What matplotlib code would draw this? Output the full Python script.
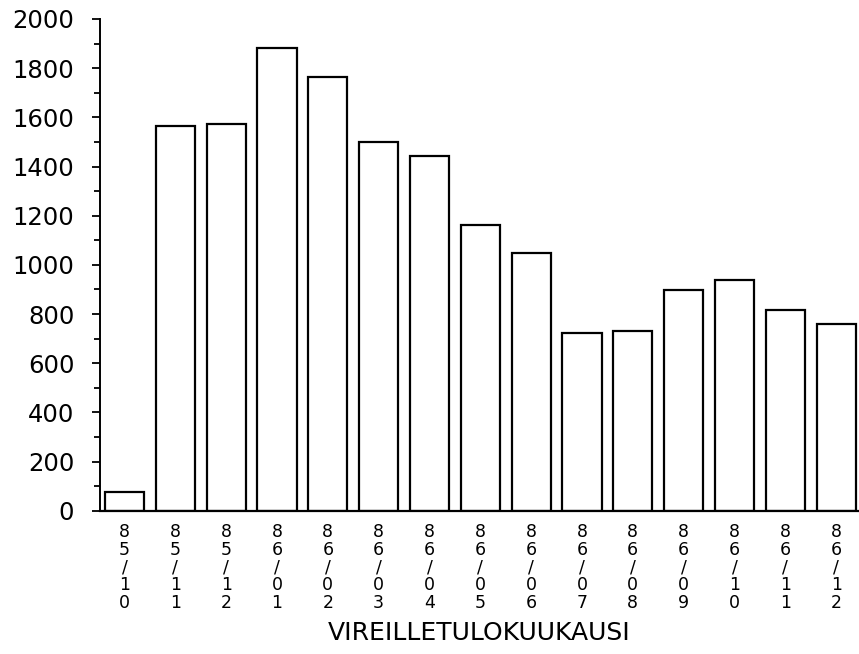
import matplotlib
matplotlib.use("Agg")
import matplotlib.pyplot as plt
import numpy as np

categories = ["85/10", "85/11", "85/12", "86/01", "86/02", "86/03", "86/04",
              "86/05", "86/06", "86/07", "86/08", "86/09", "86/10", "86/11", "86/12"]
values = [77, 1563, 1572, 1881, 1765, 1499, 1442, 1163, 1048, 723, 731, 897, 940, 816, 758]
y_ticks = [0, 200, 400, 600, 800, 1000, 1200, 1400, 1600, 1800, 2000]
x_title = "VIREILLETULOKUUKAUSI"

fig = plt.figure(figsize=(8.59, 6.54), dpi=100)
ax = fig.add_axes([100/859, (654-510.7)/654, 1 - 100/859, (510.7-19)/654])

x = np.arange(len(categories))
ax.bar(x, values, width=0.77, color="white", edgecolor="black", linewidth=1.6)

ax.set_xlim(-0.482, 14.45)
ax.set_ylim(0, 2000)
ax.set_yticks(y_ticks)
ax.set_yticklabels([str(v) for v in y_ticks], fontsize=17.5)
ax.set_yticks(np.arange(100, 2000, 200), minor=True)
ax.tick_params(axis="y", which="major", length=6, width=1.3, direction="out", pad=12.5)
ax.tick_params(axis="y", which="minor", length=4, width=1.3, direction="out")

ax.set_xticks(x)
ax.set_xticklabels(["\n".join(list(c)) for c in categories], fontsize=12.5, linespacing=0.97)
ax.tick_params(axis="x", length=0, pad=9)

for s in ["top", "right"]:
    ax.spines[s].set_visible(False)
ax.spines["left"].set_linewidth(1.4)
ax.spines["bottom"].set_linewidth(1.6)

ax.set_xlabel(x_title, fontsize=18, labelpad=7)

fig.savefig("out.png", dpi=100)
